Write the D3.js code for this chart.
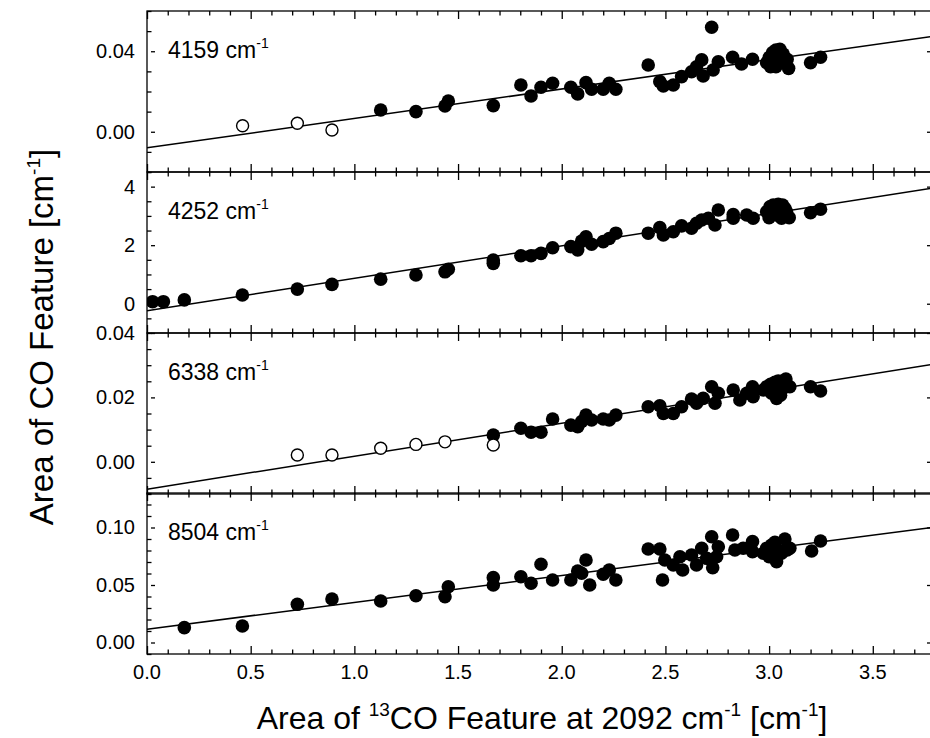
<!DOCTYPE html>
<html><head><meta charset="utf-8">
<script src="https://cdn.jsdelivr.net/npm/d3@7"></script>
<style>body{margin:0;background:#fff}svg{display:block}text{font-family:"Liberation Sans",Arial,sans-serif;fill:#000}</style>
</head><body><div id="chart"></div>
<script>
// ---------------- DATA ----------------
const panelLabels = ["4159", "4252", "6338", "8504"];
const xTickLabels = ["0.0","0.5","1.0","1.5","2.0","2.5","3.0","3.5"];
const yTickLabels = [["0.00","0.04"],["0","2","4"],["0.00","0.02","0.04"],["0.00","0.05","0.10"]];
const fitIntercepts = [-0.0080, -0.24, -0.0085, 0.0115];
const fitSlopes = [0.01462, 1.107, 0.01023, 0.0234];

// panel 1 : 4159 cm-1
const p1FilledX = [1.127,1.297,1.437,1.453,1.67,1.803,1.852,1.90,1.956,2.044,2.077,2.117,2.144,2.20,2.229,2.261,2.417,2.473,2.49,2.538,2.578,2.626,2.65,2.675,2.682,2.723,2.73,2.755,2.824,2.867,2.92,
  2.988,3.001,3.017,3.033,3.052,3.068,3.007,3.033,3.060,3.087,3.094,3.044,3.20,3.248];
const p1FilledY = [0.0108,0.0100,0.0128,0.0153,0.0130,0.0232,0.0178,0.0221,0.0241,0.0221,0.0188,0.0244,0.0211,0.0211,0.0241,0.0211,0.0332,0.0249,0.0227,0.0232,0.0274,0.0298,0.0323,0.0357,0.0277,0.0519,0.0307,0.0348,0.0370,0.0337,0.0360,
  0.0343,0.0370,0.0393,0.0406,0.0410,0.0386,0.0323,0.0323,0.0348,0.0360,0.0315,0.0365,0.0343,0.0370];
const p1OpenX = [0.461,0.725,0.892];
const p1OpenY = [0.0030,0.0042,0.0009];

// panel 2 : 4252 cm-1
const p2FilledX = [0.027,0.079,0.18,0.46,0.725,0.892,1.127,1.297,1.437,1.453,1.67,1.67,1.803,1.852,1.90,1.956,2.044,2.077,2.096,2.117,2.144,2.20,2.229,2.261,2.417,2.473,2.49,2.538,2.578,2.626,2.65,2.675,2.707,2.739,2.755,2.827,2.827,2.892,2.923,
  2.988,3.004,3.02,3.044,3.065,3.084,3.097,3.00,3.036,3.06,3.028,3.076,3.20,3.248];
const p2FilledY = [0.07,0.07,0.13,0.30,0.50,0.66,0.84,0.98,1.09,1.18,1.38,1.49,1.64,1.64,1.72,1.91,1.95,1.84,2.14,2.29,2.03,2.12,2.23,2.41,2.41,2.60,2.35,2.46,2.66,2.58,2.75,2.86,2.92,2.69,3.20,3.05,2.92,3.03,2.92,
  3.14,3.31,3.37,3.40,3.37,3.14,2.94,2.94,3.03,2.92,3.20,3.26,3.11,3.23];
const p2OpenX = [];
const p2OpenY = [];

// panel 3 : 6338 cm-1
const p3FilledX = [1.67,1.803,1.852,1.90,1.956,2.044,2.077,2.096,2.117,2.144,2.20,2.229,2.261,2.417,2.473,2.49,2.538,2.578,2.626,2.65,2.682,2.723,2.739,2.755,2.827,2.859,2.892,2.92,2.923,
  2.972,2.988,3.007,3.028,3.044,3.081,3.10,3.036,3.012,3.06,3.084,3.055,3.20,3.248];
const p3FilledY = [0.0083,0.0104,0.0092,0.0092,0.0133,0.0114,0.0109,0.0125,0.0145,0.0130,0.0133,0.0130,0.0145,0.0171,0.0174,0.0150,0.0150,0.0171,0.0195,0.0182,0.0197,0.0233,0.0182,0.0213,0.0223,0.0192,0.0213,0.0233,0.0202,
  0.0223,0.0233,0.0241,0.0247,0.0251,0.0257,0.0233,0.0197,0.0213,0.0223,0.0239,0.0207,0.0233,0.0220];
const p3OpenX = [0.725,0.892,1.127,1.297,1.437,1.67];
const p3OpenY = [0.0021,0.0021,0.0042,0.0054,0.0062,0.0052];

// panel 4 : 8504 cm-1
const p4FilledX = [0.18,0.46,0.725,0.892,1.127,1.297,1.437,1.453,1.67,1.67,1.803,1.852,1.90,1.956,2.044,2.077,2.096,2.117,2.135,2.20,2.229,2.261,2.417,2.473,2.486,2.497,2.538,2.57,2.583,2.626,2.65,2.675,2.699,2.723,2.728,2.755,2.747,2.824,2.835,2.875,2.92,2.92,
  2.972,2.988,3.012,3.028,3.076,3.10,3.036,3.00,3.06,3.087,3.044,3.02,3.205,3.248];
const p4FilledY = [0.0129,0.0143,0.0332,0.0378,0.0361,0.0407,0.0398,0.0485,0.0500,0.0564,0.0572,0.0515,0.0680,0.0543,0.0543,0.0622,0.0602,0.0717,0.0500,0.0593,0.0630,0.0543,0.0813,0.0813,0.0543,0.0717,0.0674,0.0746,0.0630,0.0761,0.0674,0.0819,0.0732,0.0920,0.0650,0.0833,0.0746,0.0935,0.0804,0.0819,0.0877,0.0790,
  0.0776,0.0819,0.0848,0.0871,0.0900,0.0819,0.0703,0.0746,0.0776,0.0804,0.0804,0.0790,0.0796,0.0883];
const p4OpenX = [];
const p4OpenY = [];

// ---------------- LAYOUT ----------------
const W = 930, H = 738;
const left = 147, right = 935;
const panelTops = [11, 172, 333, 493];
const panelH = 161;
const xDomain = [0, 3.8];
const yDomains = [[-0.02, 0.06], [-1, 4.5], [-0.01, 0.04], [-0.01, 0.13]];
const yMinorSteps = [0.01, 0.5, 0.005, 0.01];

const panels = [
  {fx: p1FilledX, fy: p1FilledY, ox: p1OpenX, oy: p1OpenY},
  {fx: p2FilledX, fy: p2FilledY, ox: p2OpenX, oy: p2OpenY},
  {fx: p3FilledX, fy: p3FilledY, ox: p3OpenX, oy: p3OpenY},
  {fx: p4FilledX, fy: p4FilledY, ox: p4OpenX, oy: p4OpenY}
];

const svg = d3.select("#chart").append("svg").attr("width", W).attr("height", H);
const x = d3.scaleLinear().domain(xDomain).range([left, right]);

const xMajor = xTickLabels.map(Number);
const xMinor = d3.range(0, 38).map(i => +(i * 0.1).toFixed(2)).filter(v => !xMajor.some(m => Math.abs(m - v) < 1e-9));

const defs = svg.append("defs");

panels.forEach((p, i) => {
  const top = panelTops[i], bottom = top + panelH;
  const y = d3.scaleLinear().domain(yDomains[i]).range([bottom, top]);
  const g = svg.append("g");
  defs.append("clipPath").attr("id", "clip" + i).append("rect")
    .attr("x", left).attr("y", top).attr("width", right - left).attr("height", panelH);
  const plot = g.append("g").attr("clip-path", `url(#clip${i})`);

  // fit line
  const fit = d3.line().x(d => x(d)).y(d => y(fitIntercepts[i] + fitSlopes[i] * d));
  plot.append("path").datum(xDomain).attr("d", fit)
    .attr("fill", "none").attr("stroke", "#000").attr("stroke-width", 1.5);

  // points
  plot.selectAll("circle.f").data(d3.zip(p.fx, p.fy)).join("circle")
    .attr("class", "f").attr("cx", d => x(d[0])).attr("cy", d => y(d[1])).attr("r", 6.8).attr("fill", "#000");
  plot.selectAll("circle.o").data(d3.zip(p.ox, p.oy)).join("circle")
    .attr("class", "o").attr("cx", d => x(d[0])).attr("cy", d => y(d[1])).attr("r", 6)
    .attr("fill", "#fff").attr("stroke", "#000").attr("stroke-width", 1.4);

  // axes
  const yMaj = yTickLabels[i].map(Number);
  const [y0, y1] = yDomains[i];
  const n = Math.round((y1 - y0) / yMinorSteps[i]);
  const yMin = d3.range(0, n + 1).map(k => +(y0 + k * yMinorSteps[i]).toFixed(4))
    .filter(v => !yMaj.some(m => Math.abs(m - v) < 1e-9));
  const fmt = v => yTickLabels[i][yMaj.indexOf(v)];

  const la = g.append("g").attr("transform", `translate(${left},0)`)
    .call(d3.axisLeft(y).tickValues(yMaj).tickFormat(fmt).tickSizeInner(-8).tickSizeOuter(0).tickPadding(12));
  la.selectAll(".tick line").attr("x1", 4);
  la.call(s => s.select(".domain").remove());
  la.selectAll("text").attr("font-size", 20).attr("font-family", '"Liberation Sans",Arial,sans-serif');
  g.append("g").attr("transform", `translate(${left},0)`)
    .call(d3.axisLeft(y).tickValues(yMin).tickFormat("").tickSizeInner(-4.5).tickSizeOuter(0))
    .call(s => s.select(".domain").remove());
  g.append("g").attr("transform", `translate(${right},0)`)
    .call(d3.axisRight(y).tickValues(yMaj).tickFormat("").tickSizeInner(-8).tickSizeOuter(0))
    .call(s => s.select(".domain").remove());
  g.append("g").attr("transform", `translate(${right},0)`)
    .call(d3.axisRight(y).tickValues(yMin).tickFormat("").tickSizeInner(-4.5).tickSizeOuter(0))
    .call(s => s.select(".domain").remove());

  [[top, d3.axisTop], [bottom, d3.axisBottom]].forEach(([yy, ax]) => {
    g.append("g").attr("transform", `translate(0,${yy})`)
      .call(ax(x).tickValues(xMajor).tickFormat("").tickSizeInner(-8).tickSizeOuter(0))
      .call(s => s.select(".domain").remove());
    g.append("g").attr("transform", `translate(0,${yy})`)
      .call(ax(x).tickValues(xMinor).tickFormat("").tickSizeInner(-4.5).tickSizeOuter(0))
      .call(s => s.select(".domain").remove());
  });
  g.selectAll(".tick line").attr("stroke-width", 1.3);

  // frame
  g.append("rect").attr("x", left).attr("y", top).attr("width", right - left).attr("height", panelH)
    .attr("fill", "none").attr("stroke", "#000").attr("stroke-width", 1.3);

  // label
  const t = g.append("text").attr("x", 168).attr("y", top + 47).attr("font-size", 23);
  t.append("tspan").text(panelLabels[i] + " cm");
  t.append("tspan").attr("dy", -10).attr("font-size", 14).text("-1");
});

// x tick labels
const bottomY = panelTops[3] + panelH;
svg.append("g").selectAll("text").data(xTickLabels).join("text")
  .attr("x", d => x(+d)).attr("y", bottomY + 25).attr("text-anchor", "middle").attr("font-size", 20).text(d => d);

// x title
const xt = svg.append("text").attr("x", 542).attr("y", 729)
  .attr("text-anchor", "middle").attr("font-size", 32);
xt.append("tspan").text("Area of ");
xt.append("tspan").attr("dy", -13).attr("font-size", 19).text("13");
xt.append("tspan").attr("dy", 13).text("CO Feature at 2092 cm");
xt.append("tspan").attr("dy", -13).attr("font-size", 19).text("-1");
xt.append("tspan").attr("dy", 13).text(" [cm");
xt.append("tspan").attr("dy", -13).attr("font-size", 19).text("-1");
xt.append("tspan").attr("dy", 13).text("]");

// y title
const yt = svg.append("text").attr("transform", "translate(53,337) rotate(-90)")
  .attr("text-anchor", "middle").attr("font-size", 33);
yt.append("tspan").text("Area of CO Feature [cm");
yt.append("tspan").attr("dy", -13).attr("font-size", 19).text("-1");
yt.append("tspan").attr("dy", 13).text("]");
</script></body></html>
